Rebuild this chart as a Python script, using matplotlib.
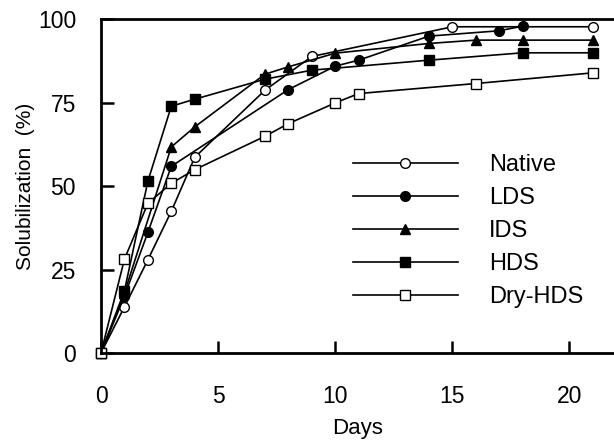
import matplotlib
matplotlib.use("Agg")
import matplotlib.pyplot as plt

plt.rcParams['font.family'] = ['Liberation Sans', 'DejaVu Sans']

# days and solubilization (%) per sample
native_days = [0, 1, 2, 3, 4, 7, 9, 15, 21]
native_vals = [0, 13.8, 27.9, 42.4, 58.6, 78.7, 88.8, 97.7, 97.7]

lds_days = [0, 1, 2, 3, 8, 10, 11, 14, 17, 18]
lds_vals = [0, 17, 36.1, 55.9, 78.9, 85.9, 87.7, 94.9, 96.5, 97.9]

ids_days = [0, 1, 3, 4, 7, 8, 10, 14, 16, 18, 21]
ids_vals = [0, 18, 61.7, 67.7, 83.5, 85.7, 89.8, 92.7, 93.7, 93.7, 93.7]

hds_days = [0, 1, 2, 3, 4, 7, 9, 14, 18, 21]
hds_vals = [0, 18.6, 51.4, 73.9, 76, 82, 84.7, 87.7, 89.9, 89.9]

dry_days = [0, 1, 2, 3, 4, 7, 8, 10, 11, 16, 21]
dry_vals = [0, 28.1, 44.8, 50.8, 54.9, 64.9, 68.7, 74.9, 77.7, 80.7, 83.9]

x_ticks = [0, 5, 10, 15, 20]
y_ticks = [0, 25, 50, 75, 100]

fig = plt.figure(figsize=(6.14, 4.44), dpi=100)
ax = fig.add_axes([0.1645, 0.205, 0.8355, 0.752])

style = dict(color='black', lw=1.2, markersize=7, markeredgewidth=1.0, clip_on=False)
ax.plot(native_days, native_vals, marker='o', mfc='white', label='Native', **style)
ax.plot(lds_days, lds_vals, marker='o', mfc='black', label='LDS', **style)
ax.plot(ids_days, ids_vals, marker='^', mfc='black', label='IDS', **style)
ax.plot(hds_days, hds_vals, marker='s', mfc='black', label='HDS', **style)
ax.plot(dry_days, dry_vals, marker='s', mfc='white', label='Dry-HDS', **style)

ax.set_xlim(0, 21.9)
ax.set_ylim(0, 100)
ax.set_xticks(x_ticks)
ax.set_yticks(y_ticks)
ax.tick_params(direction='in', length=9, width=1.8, labelsize=16.5)
ax.tick_params(axis='y', pad=18)
ax.tick_params(axis='x', pad=23)
for s in ['left', 'bottom', 'top']:
    ax.spines[s].set_linewidth(2)
ax.spines['right'].set_visible(False)

ax.set_xlabel('Days', fontsize=16, labelpad=7)
ax.set_ylabel('Solubilization  (%)', fontsize=15, labelpad=2)

ax.legend(loc='upper left', bbox_to_anchor=(0.468, 0.632), frameon=False,
          fontsize=17, handlelength=4.45, handletextpad=1.3, labelspacing=0.47,
          borderpad=0, numpoints=1)

fig.savefig('out.png', dpi=100)
